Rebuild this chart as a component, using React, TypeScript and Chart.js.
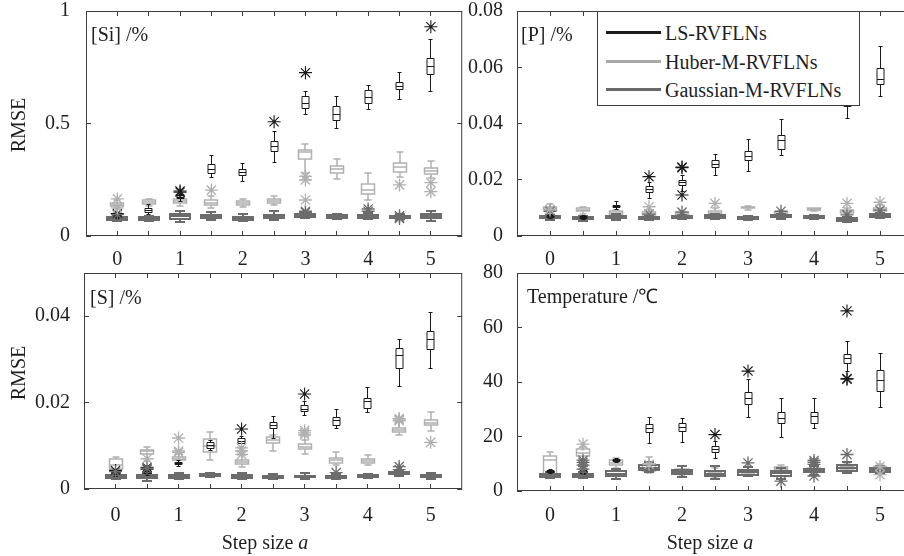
import React, { useEffect, useRef } from 'react';
import { Chart, registerables } from 'chart.js';

Chart.register(...registerables);

const FONT = "'Liberation Serif', 'Times New Roman', Times, serif";
const TEXT = '#1f1f1f';
const FRAME = '#3d3d3d';
const C_LS = '#1a1a1a';
const C_HUB = '#b0b0b0';
const C_GAU = '#6c6c6c';

// step sizes of the 11 box groups
const stepPositions = [0, 0.5, 1, 1.5, 2, 2.5, 3, 3.5, 4, 4.5, 5];
const xTickValues = [0, 1, 2, 3, 4, 5];
const xTickLabels = ['0', '1', '2', '3', '4', '5'];

// each box: [lower whisker, q1, median, q3, upper whisker]
// ---------- [Si] ----------
const siLS = [
  [0.078, 0.084, 0.088, 0.092, 0.098],
  [0.095, 0.104, 0.112, 0.122, 0.140],
  [0.155, 0.165, 0.172, 0.178, 0.185],
  [0.261, 0.279, 0.296, 0.316, 0.356],
  [0.241, 0.268, 0.283, 0.296, 0.323],
  [0.326, 0.375, 0.400, 0.420, 0.464],
  [0.541, 0.567, 0.590, 0.619, 0.641],
  [0.479, 0.512, 0.538, 0.575, 0.619],
  [0.560, 0.587, 0.616, 0.646, 0.671],
  [0.607, 0.649, 0.664, 0.683, 0.726],
  [0.644, 0.716, 0.752, 0.787, 0.874],
];
const siLSOut = [[0.10], [], [0.20, 0.195], [], [], [0.508], [0.726], [], [], [], [0.93]];
const siHub = [
  [0.125, 0.133, 0.140, 0.148, 0.158],
  [0.133, 0.142, 0.150, 0.158, 0.166],
  [0.135, 0.148, 0.156, 0.166, 0.175],
  [0.125, 0.137, 0.148, 0.162, 0.178],
  [0.130, 0.138, 0.146, 0.155, 0.164],
  [0.140, 0.148, 0.156, 0.163, 0.178],
  [0.280, 0.341, 0.374, 0.382, 0.409],
  [0.253, 0.279, 0.296, 0.312, 0.341],
  [0.160, 0.187, 0.206, 0.230, 0.281],
  [0.264, 0.286, 0.308, 0.326, 0.375],
  [0.256, 0.276, 0.289, 0.301, 0.335],
];
const siHubOut = [[0.165, 0.125], [], [], [0.204], [], [], [0.249, 0.265, 0.16], [], [], [0.227], [0.237, 0.197]];
const siGau = [
  [0.066, 0.072, 0.078, 0.084, 0.090],
  [0.066, 0.073, 0.078, 0.084, 0.090],
  [0.062, 0.074, 0.087, 0.100, 0.110],
  [0.070, 0.078, 0.085, 0.094, 0.105],
  [0.066, 0.072, 0.078, 0.084, 0.098],
  [0.072, 0.080, 0.087, 0.094, 0.110],
  [0.078, 0.085, 0.090, 0.098, 0.106],
  [0.074, 0.080, 0.086, 0.092, 0.098],
  [0.074, 0.080, 0.088, 0.095, 0.104],
  [0.074, 0.079, 0.084, 0.090, 0.096],
  [0.068, 0.078, 0.088, 0.100, 0.110],
];
const siGauOut = [[0.095], [], [], [], [], [], [0.105, 0.11], [], [0.11, 0.12], [0.09, 0.078, 0.084], []];
const siTicks = [0, 0.5, 1];
const siTickLabels = ['0', '0.5', '1'];

// ---------- [P] ----------
const pLS = [
  [0.0062, 0.0066, 0.0069, 0.0072, 0.0076],
  [0.0060, 0.0064, 0.0067, 0.0070, 0.0074],
  [0.0095, 0.0102, 0.0106, 0.0110, 0.0123],
  [0.0134, 0.0154, 0.0165, 0.0175, 0.0190],
  [0.0160, 0.0180, 0.0190, 0.0199, 0.0215],
  [0.0214, 0.0244, 0.0256, 0.0270, 0.0290],
  [0.0228, 0.0267, 0.0284, 0.0300, 0.0344],
  [0.0288, 0.0306, 0.0339, 0.0359, 0.0416],
  [0.0470, 0.0500, 0.0520, 0.0540, 0.0580],
  [0.0419, 0.0460, 0.0490, 0.0520, 0.0580],
  [0.0496, 0.0537, 0.0555, 0.0597, 0.0674],
];
const pLSOut = [[], [], [], [0.0211], [0.0243, 0.0245, 0.0146], [], [], [], [], [], []];
const pHub = [
  [0.0085, 0.0093, 0.0098, 0.0104, 0.0114],
  [0.0078, 0.0088, 0.0094, 0.0100, 0.0104],
  [0.0068, 0.0076, 0.0082, 0.0088, 0.0094],
  [0.0065, 0.0073, 0.0079, 0.0086, 0.0093],
  [0.0065, 0.0072, 0.0078, 0.0084, 0.0090],
  [0.0068, 0.0076, 0.0082, 0.0090, 0.0098],
  [0.0092, 0.0098, 0.0101, 0.0104, 0.0108],
  [0.0066, 0.0072, 0.0078, 0.0084, 0.0090],
  [0.0088, 0.0092, 0.0095, 0.0098, 0.0101],
  [0.0075, 0.0082, 0.0088, 0.0094, 0.0100],
  [0.0080, 0.0088, 0.0094, 0.0100, 0.0112],
];
const pHubOut = [[0.0095], [], [], [0.0104], [], [0.0116], [], [], [], [0.0116], [0.012]];
const pGau = [
  [0.0058, 0.0063, 0.0067, 0.0071, 0.0076],
  [0.0055, 0.0060, 0.0064, 0.0068, 0.0072],
  [0.0058, 0.0063, 0.0067, 0.0072, 0.0078],
  [0.0056, 0.0061, 0.0064, 0.0068, 0.0072],
  [0.0059, 0.0064, 0.0068, 0.0072, 0.0076],
  [0.0059, 0.0064, 0.0068, 0.0073, 0.0080],
  [0.0057, 0.0062, 0.0065, 0.0068, 0.0072],
  [0.0062, 0.0067, 0.0071, 0.0075, 0.0080],
  [0.0060, 0.0065, 0.0068, 0.0071, 0.0075],
  [0.0050, 0.0055, 0.0059, 0.0063, 0.0068],
  [0.0065, 0.0069, 0.0073, 0.0077, 0.0082],
];
const pGauOut = [[0.0088], [], [], [0.0078], [0.0085], [], [], [0.0088], [], [0.0075], [0.0092]];
const pTicks = [0, 0.02, 0.04, 0.06, 0.08];
const pTickLabels = ['0', '0.02', '0.04', '0.06', '0.08'];

// ---------- [S] ----------
const sLS = [
  [0.0030, 0.0034, 0.0037, 0.0040, 0.0043],
  [0.0032, 0.0036, 0.0040, 0.0043, 0.0047],
  [0.0053, 0.0056, 0.0059, 0.0062, 0.0066],
  [0.0088, 0.0093, 0.0101, 0.0108, 0.0113],
  [0.0098, 0.0106, 0.0110, 0.0116, 0.0122],
  [0.0118, 0.0139, 0.0147, 0.0155, 0.0168],
  [0.0169, 0.0179, 0.0184, 0.0193, 0.0202],
  [0.0141, 0.0148, 0.0158, 0.0165, 0.0183],
  [0.0177, 0.0187, 0.0202, 0.0210, 0.0235],
  [0.0238, 0.0280, 0.0309, 0.0326, 0.0346],
  [0.0278, 0.0323, 0.0346, 0.0365, 0.0409],
];
const sLSOut = [[0.0043], [0.0050, 0.0046], [], [], [0.0139], [], [0.0220], [], [], [], []];
const sHub = [
  [0.0040, 0.0046, 0.0055, 0.0069, 0.0074],
  [0.0065, 0.0082, 0.0087, 0.0091, 0.0097],
  [0.0060, 0.0067, 0.0070, 0.0075, 0.0080],
  [0.0068, 0.0085, 0.0100, 0.0116, 0.0131],
  [0.0050, 0.0058, 0.0063, 0.0068, 0.0078],
  [0.0088, 0.0106, 0.0113, 0.0120, 0.0126],
  [0.0082, 0.0092, 0.0098, 0.0104, 0.0114],
  [0.0055, 0.0060, 0.0066, 0.0072, 0.0085],
  [0.0055, 0.0061, 0.0065, 0.0070, 0.0078],
  [0.0124, 0.0132, 0.0137, 0.0142, 0.0156],
  [0.0135, 0.0147, 0.0153, 0.0160, 0.0178],
];
const sHubOut = [[], [0.0070], [0.0118, 0.0085, 0.0088], [], [0.0088, 0.0095, 0.0080], [], [0.0130, 0.0125, 0.0135], [], [], [0.0163, 0.0158, 0.0160], [0.0108]];
const sGau = [
  [0.0022, 0.0026, 0.0029, 0.0032, 0.0036],
  [0.0019, 0.0025, 0.0029, 0.0033, 0.0037],
  [0.0023, 0.0026, 0.0029, 0.0032, 0.0036],
  [0.0028, 0.0031, 0.0033, 0.0035, 0.0038],
  [0.0022, 0.0026, 0.0029, 0.0032, 0.0036],
  [0.0023, 0.0026, 0.0028, 0.0030, 0.0034],
  [0.0024, 0.0027, 0.0029, 0.0031, 0.0036],
  [0.0023, 0.0026, 0.0028, 0.0030, 0.0034],
  [0.0025, 0.0028, 0.0030, 0.0032, 0.0034],
  [0.0031, 0.0034, 0.0037, 0.0040, 0.0043],
  [0.0024, 0.0028, 0.0030, 0.0032, 0.0036],
];
const sGauOut = [[0.0040], [0.0048], [], [], [], [], [], [0.0038], [], [0.0052, 0.0045], []];
const sTicks = [0, 0.02, 0.04];
const sTickLabels = ['0', '0.02', '0.04'];

// ---------- Temperature ----------
const tLS = [
  [6.5, 6.8, 7.1, 7.4, 7.8],
  [6.0, 6.5, 7.0, 7.5, 8.0],
  [10.5, 10.9, 11.2, 11.5, 11.8],
  [17.4, 21.3, 22.9, 24.4, 27.1],
  [17.9, 22.0, 23.3, 24.7, 26.5],
  [11.8, 14.0, 15.2, 16.4, 18.3],
  [26.9, 31.8, 34.0, 36.1, 41.0],
  [19.5, 24.8, 26.7, 28.7, 33.9],
  [22.8, 24.8, 27.3, 28.9, 33.9],
  [44.0, 46.9, 48.6, 50.2, 54.7],
  [30.6, 36.5, 40.4, 44.4, 50.6],
];
const tLSOut = [[], [], [], [], [], [20.7], [44.0], [], [], [66.1, 41.0, 41.3], []];
const tHub = [
  [5.0, 6.0, 11.5, 13.0, 14.2],
  [11.5, 12.7, 14.0, 15.3, 16.2],
  [8.5, 9.4, 10.2, 11.3, 12.0],
  [6.6, 7.2, 8.6, 10.0, 12.5],
  [6.0, 7.0, 7.5, 8.2, 9.0],
  [5.0, 6.2, 6.8, 7.4, 8.5],
  [5.5, 6.5, 7.2, 7.8, 8.8],
  [6.5, 7.8, 8.3, 8.8, 9.7],
  [6.2, 7.2, 7.8, 8.5, 9.5],
  [7.5, 8.2, 8.8, 9.2, 9.8],
  [6.5, 7.5, 8.2, 8.8, 10.0],
];
const tHubOut = [[], [17.2], [], [9.8], [], [], [], [], [], [], [6.0, 9.0]];
const tGau = [
  [4.6, 5.2, 5.8, 6.2, 7.0],
  [4.6, 5.2, 5.6, 6.2, 7.0],
  [4.4, 5.4, 6.2, 7.2, 8.0],
  [6.8, 7.8, 8.6, 9.5, 10.5],
  [5.2, 6.3, 7.0, 7.6, 9.0],
  [4.4, 5.4, 6.3, 7.2, 9.0],
  [5.4, 6.0, 6.9, 7.8, 8.8],
  [4.5, 5.4, 6.5, 7.2, 8.5],
  [6.0, 7.0, 7.5, 8.2, 9.0],
  [6.6, 7.2, 8.5, 9.7, 10.8],
  [6.2, 7.0, 7.8, 8.6, 9.3],
];
const tGauOut = [[], [8.0, 9.5, 10.5, 11.3], [], [], [], [], [10.3], [3.6], [10.5, 9.8, 5.5, 11.2], [13.4], []];
const tTicks = [0, 20, 40, 60, 80];
const tTickLabels = ['0', '20', '40', '60', '80'];

const legendLabels = ['LS-RVFLNs', 'Huber-M-RVFLNs', 'Gaussian-M-RVFLNs'];

interface Series {
  boxes: number[][];
  outliers: number[][];
  color: string;
  boxW: number;
  capW: number;
  lw: number;
  starW: number;
}

interface PanelDef {
  left: number; top: number; w: number; h: number;
  yAxisW: number; xAxisH: number; padTop: number; padRight: number;
  yMin: number; yMax: number; yTicks: number[]; yTickLabels: string[];
  xPad: number; yPad: number;
  series: Series[];
}

function trio(ls: number[][], lsO: number[][], hub: number[][], hubO: number[][], gau: number[][], gauO: number[][]): Series[] {
  // drawing order: Huber, Gaussian, LS on top
  return [
    { boxes: hub, outliers: hubO, color: C_HUB, boxW: 13, capW: 7, lw: 1.5, starW: 1.3 },
    { boxes: gau, outliers: gauO, color: C_GAU, boxW: 20, capW: 10, lw: 2, starW: 1.3 },
    { boxes: ls, outliers: lsO, color: C_LS, boxW: 7, capW: 4, lw: 1, starW: 1.1 },
  ];
}

const panels: PanelDef[] = [
  { left: 0, top: 0, w: 470, h: 280, yAxisW: 86, xAxisH: 44, padTop: 11, padRight: 7,
    yMin: 0, yMax: 1, yTicks: siTicks, yTickLabels: siTickLabels, xPad: 12, yPad: 16,
    series: trio(siLS, siLSOut, siHub, siHubOut, siGau, siGauOut) },
  { left: 464, top: 0, w: 460, h: 280, yAxisW: 53, xAxisH: 44, padTop: 11, padRight: 11,
    yMin: 0, yMax: 0.08, yTicks: pTicks, yTickLabels: pTickLabels, xPad: 12, yPad: 14,
    series: trio(pLS, pLSOut, pHub, pHubOut, pGau, pGauOut) },
  { left: 0, top: 250, w: 470, h: 306, yAxisW: 84, xAxisH: 67, padTop: 23, padRight: 7,
    yMin: 0, yMax: 0.05, yTicks: sTicks, yTickLabels: sTickLabels, xPad: 15, yPad: 14,
    series: trio(sLS, sLSOut, sHub, sHubOut, sGau, sGauOut) },
  { left: 464, top: 250, w: 460, h: 306, yAxisW: 53, xAxisH: 65, padTop: 23, padRight: 11,
    yMin: 0, yMax: 80, yTicks: tTicks, yTickLabels: tTickLabels, xPad: 13, yPad: 14,
    series: trio(tLS, tLSOut, tHub, tHubOut, tGau, tGauOut) },
];

function snap(v: number, lw: number) {
  return Math.round(lw) % 2 === 1 ? Math.round(v - 0.5) + 0.5 : Math.round(v);
}

function makePlugin(p: PanelDef) {
  return {
    id: 'boxplots',
    beforeDatasetsDraw(chart: any) {
      const { ctx, chartArea, scales } = chart;
      const xs = scales.x, ys = scales.y;
      ctx.save();
      ctx.beginPath();
      ctx.rect(chartArea.left, chartArea.top, chartArea.right - chartArea.left, chartArea.bottom - chartArea.top);
      ctx.clip();
      for (const s of p.series) {
        ctx.strokeStyle = s.color;
        ctx.lineWidth = s.lw;
        s.boxes.forEach((b, i) => {
          const cx = snap(xs.getPixelForValue(stepPositions[i]), s.lw);
          const [lo, q1, med, q3, hi] = b.map((v) => snap(ys.getPixelForValue(v), s.lw));
          const hw = s.boxW / 2, cw = s.capW / 2;
          ctx.beginPath();
          ctx.rect(cx - hw, q3, s.boxW, q1 - q3);
          ctx.moveTo(cx - hw, med); ctx.lineTo(cx + hw, med);
          ctx.moveTo(cx, q3); ctx.lineTo(cx, hi);
          ctx.moveTo(cx, q1); ctx.lineTo(cx, lo);
          ctx.moveTo(cx - cw, hi); ctx.lineTo(cx + cw, hi);
          ctx.moveTo(cx - cw, lo); ctx.lineTo(cx + cw, lo);
          ctx.stroke();
        });
      }
      ctx.restore();
    },
    afterDraw(chart: any) {
      const { ctx, chartArea, scales } = chart;
      const { left, top, right, bottom } = chartArea;
      ctx.save();
      ctx.strokeStyle = FRAME;
      ctx.lineWidth = 1;
      ctx.strokeRect(left + 0.5, top + 0.5, right - left - 1, bottom - top - 1);
      ctx.beginPath();
      const tl = 5;
      for (const v of stepPositions) {
        const x = snap(scales.x.getPixelForValue(v), 1);
        ctx.moveTo(x, bottom); ctx.lineTo(x, bottom - tl);
        ctx.moveTo(x, top); ctx.lineTo(x, top + tl);
      }
      for (const v of p.yTicks) {
        const y = snap(scales.y.getPixelForValue(v), 1);
        ctx.moveTo(left, y); ctx.lineTo(left + tl, y);
        ctx.moveTo(right, y); ctx.lineTo(right - tl, y);
      }
      ctx.stroke();
      ctx.restore();
    },
  };
}

function buildChart(canvas: HTMLCanvasElement, p: PanelDef) {
  const font = { family: FONT, size: 20 };
  const datasets = p.series.map((s) => ({
    type: 'scatter' as const,
    data: s.outliers.flatMap((arr, i) => arr.map((v) => ({ x: stepPositions[i], y: v }))),
    pointStyle: 'star',
    pointRadius: 6.5,
    pointHoverRadius: 6.5,
    borderColor: s.color,
    backgroundColor: 'rgba(0,0,0,0)',
    borderWidth: s.starW,
  }));
  return new Chart(canvas, {
    type: 'scatter',
    data: { datasets },
    plugins: [makePlugin(p)],
    options: {
      animation: false,
      responsive: false,
      events: [],
      layout: { padding: { left: 0, top: p.padTop, right: p.padRight, bottom: 0 } },
      plugins: { legend: { display: false }, tooltip: { enabled: false } },
      scales: {
        x: {
          type: 'linear',
          min: -0.5,
          max: 5.5,
          grid: { display: false, drawTicks: false },
          border: { display: false },
          ticks: {
            font, color: TEXT, padding: p.xPad, maxRotation: 0, autoSkip: false,
            callback: (_v: any, i: number) => xTickLabels[i],
          },
          afterBuildTicks: (s: any) => { s.ticks = xTickValues.map((v) => ({ value: v })); },
          afterFit: (s: any) => { s.height = p.xAxisH; s.paddingLeft = 0; s.paddingRight = 0; },
        },
        y: {
          type: 'linear',
          min: p.yMin,
          max: p.yMax,
          grid: { display: false, drawTicks: false },
          border: { display: false },
          ticks: {
            font, color: TEXT, padding: p.yPad, autoSkip: false,
            callback: (_v: any, i: number) => p.yTickLabels[i],
          },
          afterBuildTicks: (s: any) => { s.ticks = p.yTicks.map((v) => ({ value: v })); },
          afterFit: (s: any) => { s.width = p.yAxisW; s.paddingTop = 0; s.paddingBottom = 0; },
        },
      },
    } as any,
  });
}

const txt: React.CSSProperties = {
  position: 'absolute', fontFamily: FONT, fontSize: 20, lineHeight: '20px', color: TEXT, whiteSpace: 'nowrap',
};

export default function App() {
  const refs = [useRef<HTMLCanvasElement>(null), useRef<HTMLCanvasElement>(null), useRef<HTMLCanvasElement>(null), useRef<HTMLCanvasElement>(null)];
  useEffect(() => {
    const charts = panels.map((p, i) => buildChart(refs[i].current as HTMLCanvasElement, p));
    return () => charts.forEach((c) => c.destroy());
  }, []);

  const legendColors = [C_LS, '#a8a8a8', '#686868'];

  return (
    <div style={{ position: 'absolute', left: 0, top: 0, width: 904, height: 556, overflow: 'hidden', background: '#fff' }}>
      {panels.map((p, i) => (
        <canvas key={i} ref={refs[i]} width={p.w} height={p.h}
          style={{ position: 'absolute', left: p.left, top: p.top, width: p.w, height: p.h }} />
      ))}
      <div style={{ ...txt, left: 91, top: 24 }}>[Si] /%</div>
      <div style={{ ...txt, left: 521, top: 24 }}>[P] /%</div>
      <div style={{ ...txt, left: 90, top: 287 }}>[S] /%</div>
      <div style={{ ...txt, left: 527, top: 286 }}>Temperature /℃</div>
      <div style={{ ...txt, left: 18, top: 125, transform: 'translate(-50%,-50%) rotate(-90deg)' }}>RMSE</div>
      <div style={{ ...txt, left: 18, top: 373, transform: 'translate(-50%,-50%) rotate(-90deg)' }}>RMSE</div>
      <div style={{ ...txt, left: 265, top: 542, transform: 'translate(-50%,-50%)' }}>Step size <i>a</i></div>
      <div style={{ ...txt, left: 710, top: 542, transform: 'translate(-50%,-50%)' }}>Step size <i>a</i></div>
      <div style={{ position: 'absolute', left: 597, top: 11, width: 263, height: 95, boxSizing: 'border-box',
        border: `1px solid ${FRAME}`, background: '#fff' }}>
        {legendLabels.map((l, i) => (
          <React.Fragment key={l}>
            <div style={{ position: 'absolute', left: 8, top: 19 + i * 28.5, width: 55, height: 3, background: legendColors[i] }} />
            <div style={{ ...txt, left: 67, top: 11 + i * 28.5 }}>{l}</div>
          </React.Fragment>
        ))}
      </div>
    </div>
  );
}
